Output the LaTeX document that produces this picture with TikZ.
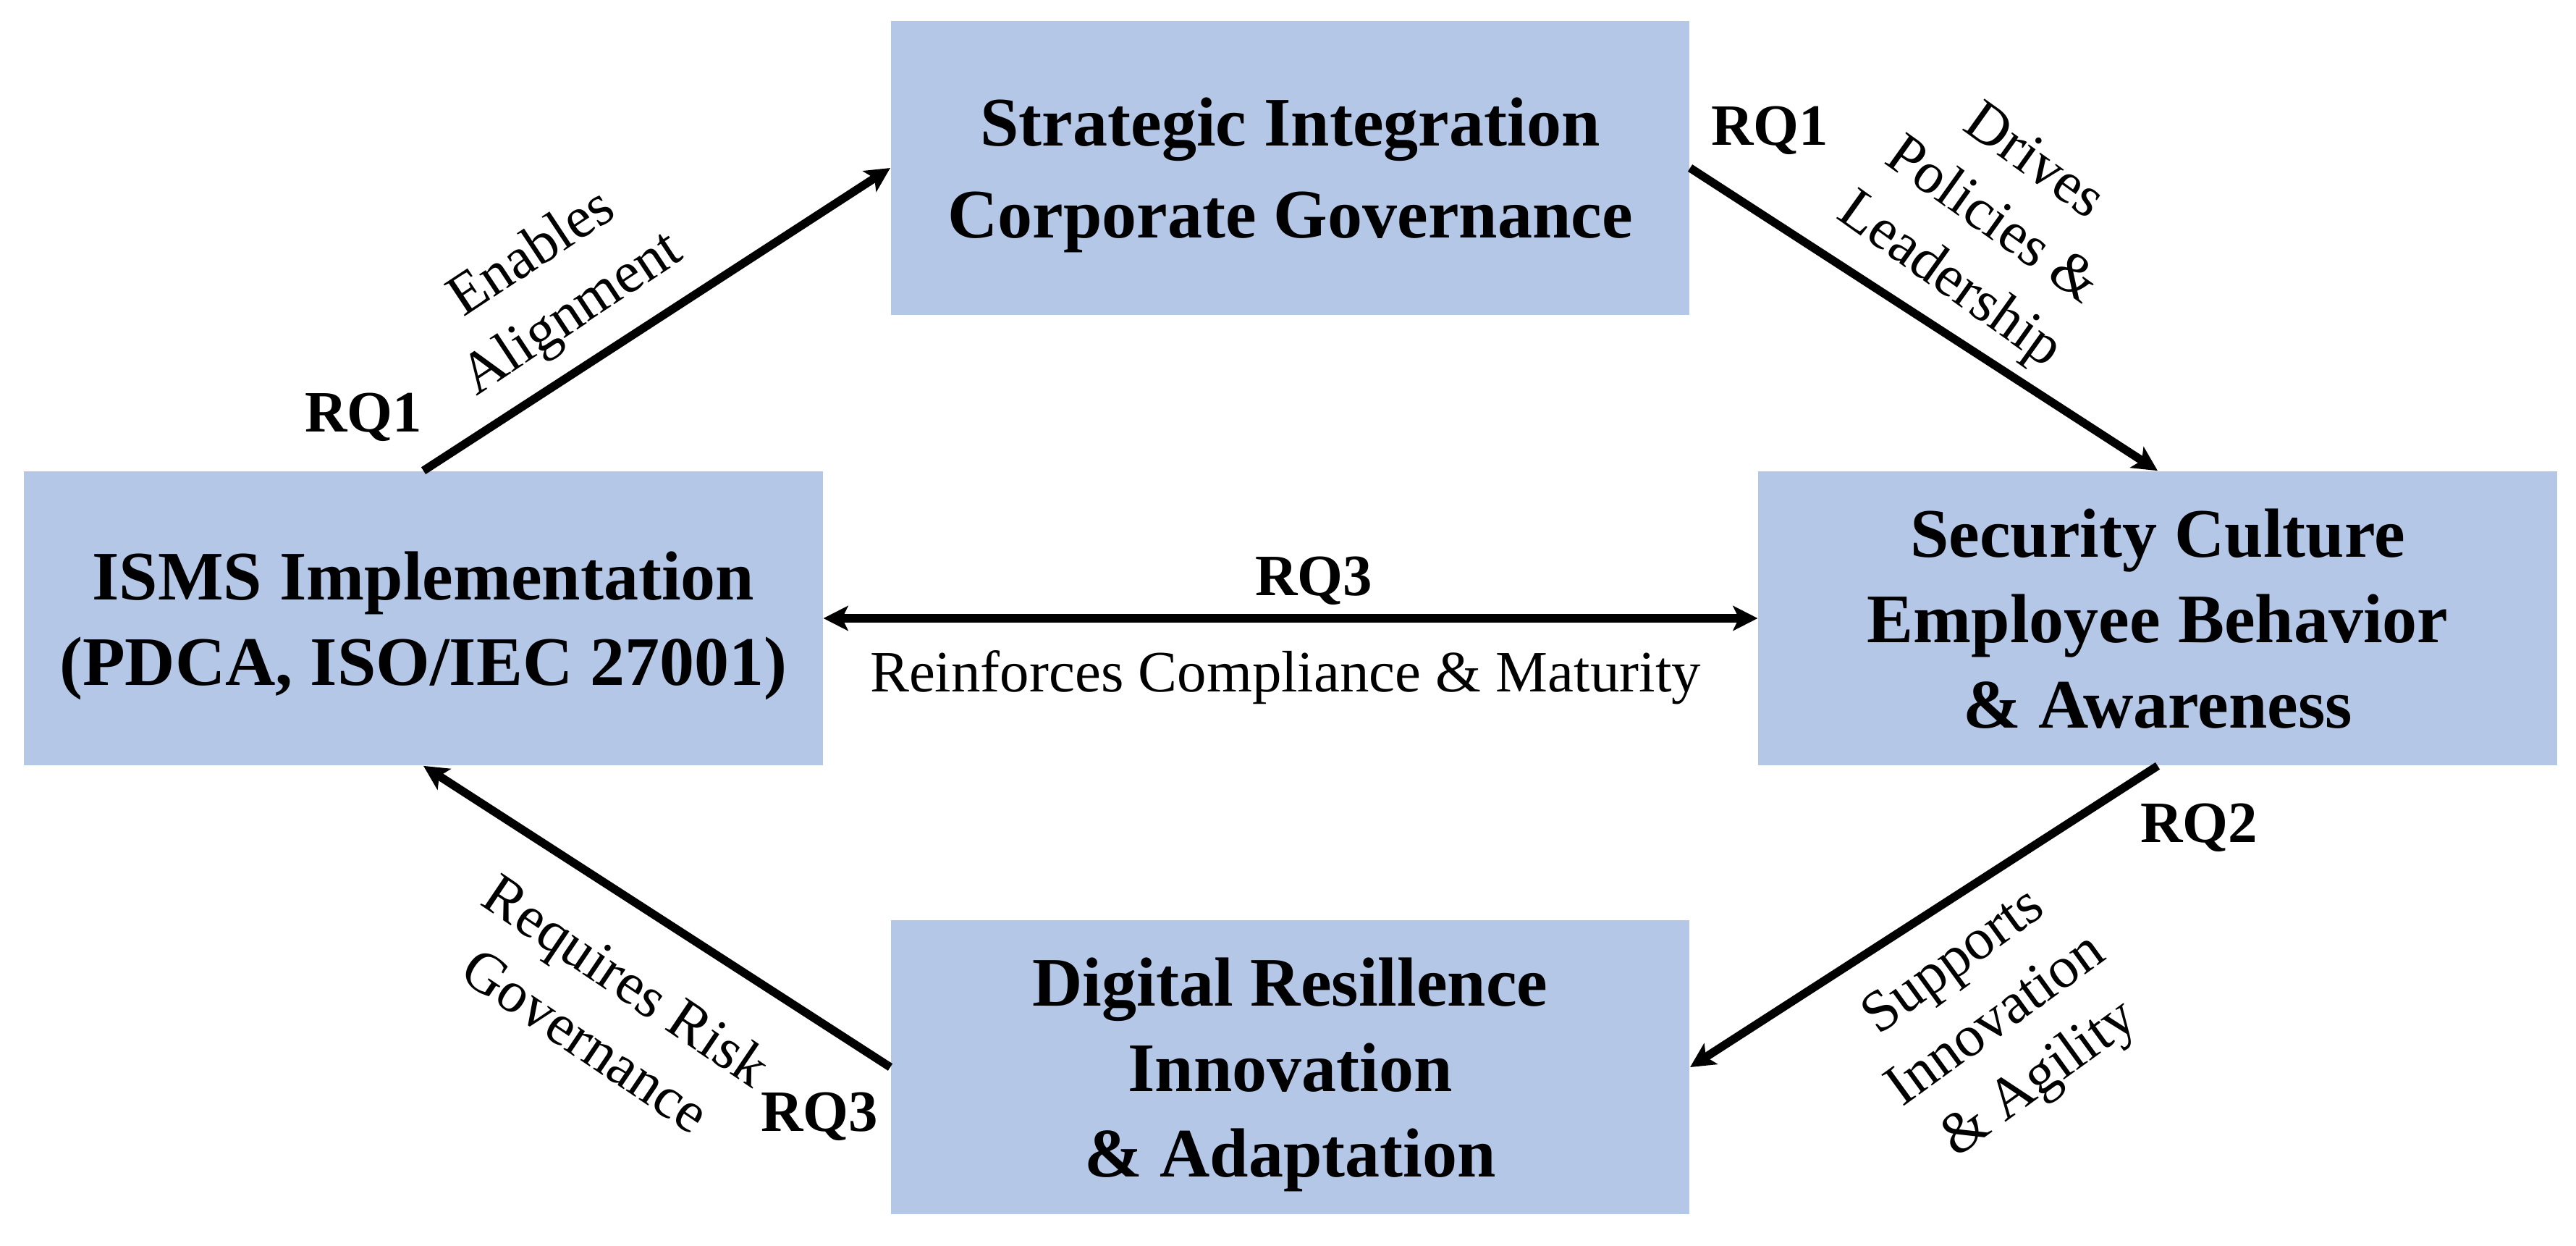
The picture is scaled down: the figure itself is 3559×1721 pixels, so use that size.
\documentclass[tikz,border=0pt]{standalone}
\usepackage{fontspec}
\setmainfont{Liberation Serif}
\usetikzlibrary{arrows.meta}
\definecolor{boxblue}{HTML}{B4C7E7}
\begin{document}
\begin{tikzpicture}[x=0.01cm, y=-0.01cm,
  >={Stealth[length=0.34cm, width=0.34cm, inset=0.08cm]},
  box/.style={fill=boxblue, draw=none, minimum width=11.03cm, minimum height=4.06cm,
    inner sep=0pt, align=center, text depth=0pt,
    font=\fontsize{27.3}{33.6}\selectfont\bfseries},
  conn/.style={line width=0.115cm, ->},
  lbl/.style={font=\fontsize{23}{28.5}\selectfont, align=center, inner sep=0pt},
  rq/.style={font=\fontsize{23}{28}\selectfont\bfseries, inner sep=0pt}]
\useasboundingbox (0,0) rectangle (3559,1721);
\node[box, font=\fontsize{27.3}{36.1}\selectfont\bfseries] (top) at (1782.5,232) {Strategic Integration\\Corporate Governance};
\node[box] (left) at (585,854) {ISMS Implementation\\(PDCA, ISO/IEC 27001)};
\node[box] (right) at (2981,854) {Security Culture\\Employee Behavior\\\& Awareness};
\node[box] (bottom) at (1782.5,1474) {Digital Resillence\\Innovation\\\& Adaptation};

\draw[conn] (left.north) -- (top.west);
\draw[conn] (top.east) -- (right.north);
\draw[conn] (right.south) -- (bottom.east);
\draw[conn] (bottom.west) -- (left.south);
\draw[conn, <->] (left.east) -- (right.west);

\node[rq] (rq1a) at (502,576) {RQ1};
\node[rq] (rq1b) at (2445,180) {RQ1};
\node[rq] (rq2) at (3038,1143) {RQ2};
\node[rq] (rq3a) at (1132,1542) {RQ3};
\node[rq, anchor=base] (rq3b) at (1815,822) {RQ3};
\node[lbl, anchor=base] (reinf) at (1776,955) {Reinforces Compliance \& Maturity};

\node[lbl, rotate=33.5] (enab) at (764,394) {Enables\\Alignment};
\node[lbl, rotate=-35.5] (drives) at (2750,308) {Drives\\Policies \&\\Leadership};
\node[lbl, rotate=-34] (req) at (838,1395) {Requires Risk\\Governance};
\node[lbl, rotate=36] (supp) at (2760,1412) {Supports\\Innovation\\\& Agility};
\end{tikzpicture}
\end{document}
